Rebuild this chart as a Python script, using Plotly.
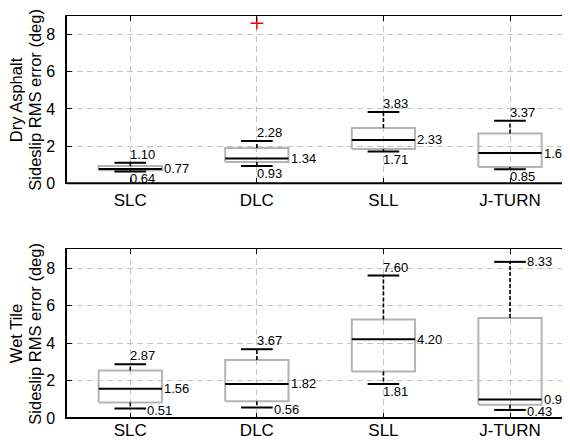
import plotly.graph_objects as go

# ---------------- data ----------------
categories = ["SLC", "DLC", "SLL", "J-TURN"]
positions = [1, 2, 3, 4]

dry_min = [0.64, 0.93, 1.71, 0.76]
dry_q1 = [0.70, 1.15, 1.85, 0.88]
dry_median = [0.77, 1.34, 2.33, 1.63]
dry_q3 = [0.93, 1.90, 2.98, 2.68]
dry_max = [1.10, 2.28, 3.83, 3.37]
dry_outlier_cat = [2]
dry_outlier_val = [8.61]
dry_min_text = ["0.64", "0.93", "1.71", "0.85"]
dry_median_text = ["0.77", "1.34", "2.33", "1.66"]
dry_max_text = ["1.10", "2.28", "3.83", "3.37"]

wet_min = [0.51, 0.56, 1.81, 0.43]
wet_q1 = [0.83, 0.89, 2.48, 0.71]
wet_median = [1.56, 1.82, 4.20, 0.99]
wet_q3 = [2.54, 3.10, 5.25, 5.34]
wet_max = [2.87, 3.67, 7.60, 8.33]
wet_min_text = ["0.51", "0.56", "1.81", "0.43"]
wet_median_text = ["1.56", "1.82", "4.20", "0.99"]
wet_max_text = ["2.87", "3.67", "7.60", "8.33"]

y_ticks = [0, 2, 4, 6, 8]
row_titles = [["Dry Asphalt", "Sideslip RMS error (deg)"], ["Wet Tile", "Sideslip RMS error (deg)"]]

# label placement styles: "above", "below", "rcap"
dry_max_place = ["above", "above", "above", "above"]
dry_min_place = ["below", "below", "below", "below"]
wet_max_place = ["above", "above", "above", "rcap"]
wet_min_place = ["rcap", "rcap", "below", "rcap"]

# ---------------- style ----------------
FONT = "Liberation Sans, Arial, sans-serif"
BOX_HALF = 0.25
CAP_HALF = 0.125
BOX_COLOR = "#b4b4b4"
GRID_COLOR = "#c4c4c4"

fig = go.Figure()
annotations = []
shapes = []


def add_group(xa, ya, mins, q1s, meds, q3s, maxs, min_t, med_t, max_t, min_pl, max_pl):
    bx, by, mx, my, wx, wy, cx, cy = [], [], [], [], [], [], [], []
    for p, lo, a, m, b, hi in zip(positions, mins, q1s, meds, q3s, maxs):
        bx += [p - BOX_HALF, p + BOX_HALF, p + BOX_HALF, p - BOX_HALF, p - BOX_HALF, None]
        by += [a, a, b, b, a, None]
        mx += [p - BOX_HALF, p + BOX_HALF, None]
        my += [m, m, None]
        wx += [p, p, None, p, p, None]
        wy += [b, hi, None, a, lo, None]
        cx += [p - CAP_HALF, p + CAP_HALF, None, p - CAP_HALF, p + CAP_HALF, None]
        cy += [hi, hi, None, lo, lo, None]
    common = dict(xaxis=xa, yaxis=ya, mode="lines", hoverinfo="skip", showlegend=False)
    fig.add_trace(go.Scatter(x=bx, y=by, line=dict(color=BOX_COLOR, width=2), **common))
    fig.add_trace(go.Scatter(x=wx, y=wy, line=dict(color="black", width=1.6, dash="4px,2px"), **common))
    fig.add_trace(go.Scatter(x=cx, y=cy, line=dict(color="black", width=2), **common))
    fig.add_trace(go.Scatter(x=mx, y=my, line=dict(color="black", width=2), **common))

    def lab(x, y, t, xanchor, yanchor, xs=0, ys=0):
        annotations.append(dict(x=x, y=y, xref=xa, yref=ya, text=t, showarrow=False,
                                xanchor=xanchor, yanchor=yanchor, xshift=xs, yshift=ys,
                                borderpad=0,
                                font=dict(family=FONT, size=13, color="black")))

    for p, lo, m, hi, lt, mt, ht, lp, hp in zip(positions, mins, meds, maxs, min_t, med_t,
                                                 max_t, min_pl, max_pl):
        lab(p + BOX_HALF, m, mt, "left", "middle", 1, 0)
        if hp == "above":
            lab(p, hi, ht, "left", "bottom", -1, 0)
        else:
            lab(p + CAP_HALF, hi, ht, "left", "middle", 0, 0)
        if lp == "below":
            lab(p, lo, lt, "left", "top", -1, 1)
        else:
            lab(p + CAP_HALF, lo, lt, "left", "middle", 0, -2)


add_group("x", "y", dry_min, dry_q1, dry_median, dry_q3, dry_max,
          dry_min_text, dry_median_text, dry_max_text, dry_min_place, dry_max_place)
fig.add_trace(go.Scatter(x=[positions[i - 1] for i in dry_outlier_cat], y=dry_outlier_val,
                         xaxis="x", yaxis="y", mode="markers", hoverinfo="skip", showlegend=False,
                         marker=dict(symbol="cross-thin", size=9, line=dict(color="red", width=1.5))))
add_group("x2", "y2", wet_min, wet_q1, wet_median, wet_q3, wet_max,
          wet_min_text, wet_median_text, wet_max_text, wet_min_place, wet_max_place)

# The page body has an 8px default margin, so the figure is sized to fit the window.
W, H = 562, 438
ML, MR, MT, MB = 59, 0, 8, 28
plot_h = H - MT - MB
top_dom = [(H - MB - 175.3) / plot_h, 1.0]
bot_dom = [0.0, (H - MB - 241.3) / plot_h]

xcommon = dict(range=[0.5, 4.474], tickvals=positions, ticktext=categories, automargin=False,
               showgrid=True, gridcolor=GRID_COLOR, griddash="6px,4px", gridwidth=1,
               zeroline=False, showline=True, linecolor="black", linewidth=1, mirror="ticks",
               ticks="inside", ticklen=5, tickcolor="black",
               tickfont=dict(family=FONT, size=17, color="black"))
ycommon = dict(range=[0, 9], tickvals=y_ticks, showgrid=True, gridcolor=GRID_COLOR, automargin=False,
               griddash="6px,4px", gridwidth=1, zeroline=False, showline=True,
               linecolor="black", linewidth=1.5, ticks="inside", ticklen=5, tickcolor="black",
               tickfont=dict(family=FONT, size=16, color="black"), ticklabelstandoff=7)

for xa, ya, dom in [("x", "y", top_dom), ("x2", "y2", bot_dom)]:
    shapes.append(dict(type="line", xref=xa + " domain", yref=ya + " domain",
                       x0=0, x1=1, y0=0, y1=0, line=dict(color="black", width=2), layer="above"))

PW = W - ML - MR
for ya, lines in [("y", row_titles[0]), ("y2", row_titles[1])]:
    for px, txt in zip([7.5, 27], lines):
        annotations.append(dict(x=(px - ML) / PW, xref="paper", y=0.5, yref=ya + " domain",
                                text=txt, textangle=-90, showarrow=False, xanchor="center",
                                yanchor="middle", font=dict(family=FONT, size=16.5, color="black")))

fig.update_layout(
    width=W, height=H, margin=dict(l=ML, r=MR, t=MT, b=MB, autoexpand=False),
    paper_bgcolor="white", plot_bgcolor="white", showlegend=False, hovermode=False,
    xaxis=dict(domain=[0, 1], anchor="y", ticklabelstandoff=1, **xcommon),
    yaxis=dict(domain=top_dom, anchor="x", **ycommon),
    xaxis2=dict(domain=[0, 1], anchor="y2", ticklabelstandoff=-3, **xcommon),
    yaxis2=dict(domain=bot_dom, anchor="x2", **ycommon),
    annotations=annotations, shapes=shapes,
)

fig.write_html("out.html")
